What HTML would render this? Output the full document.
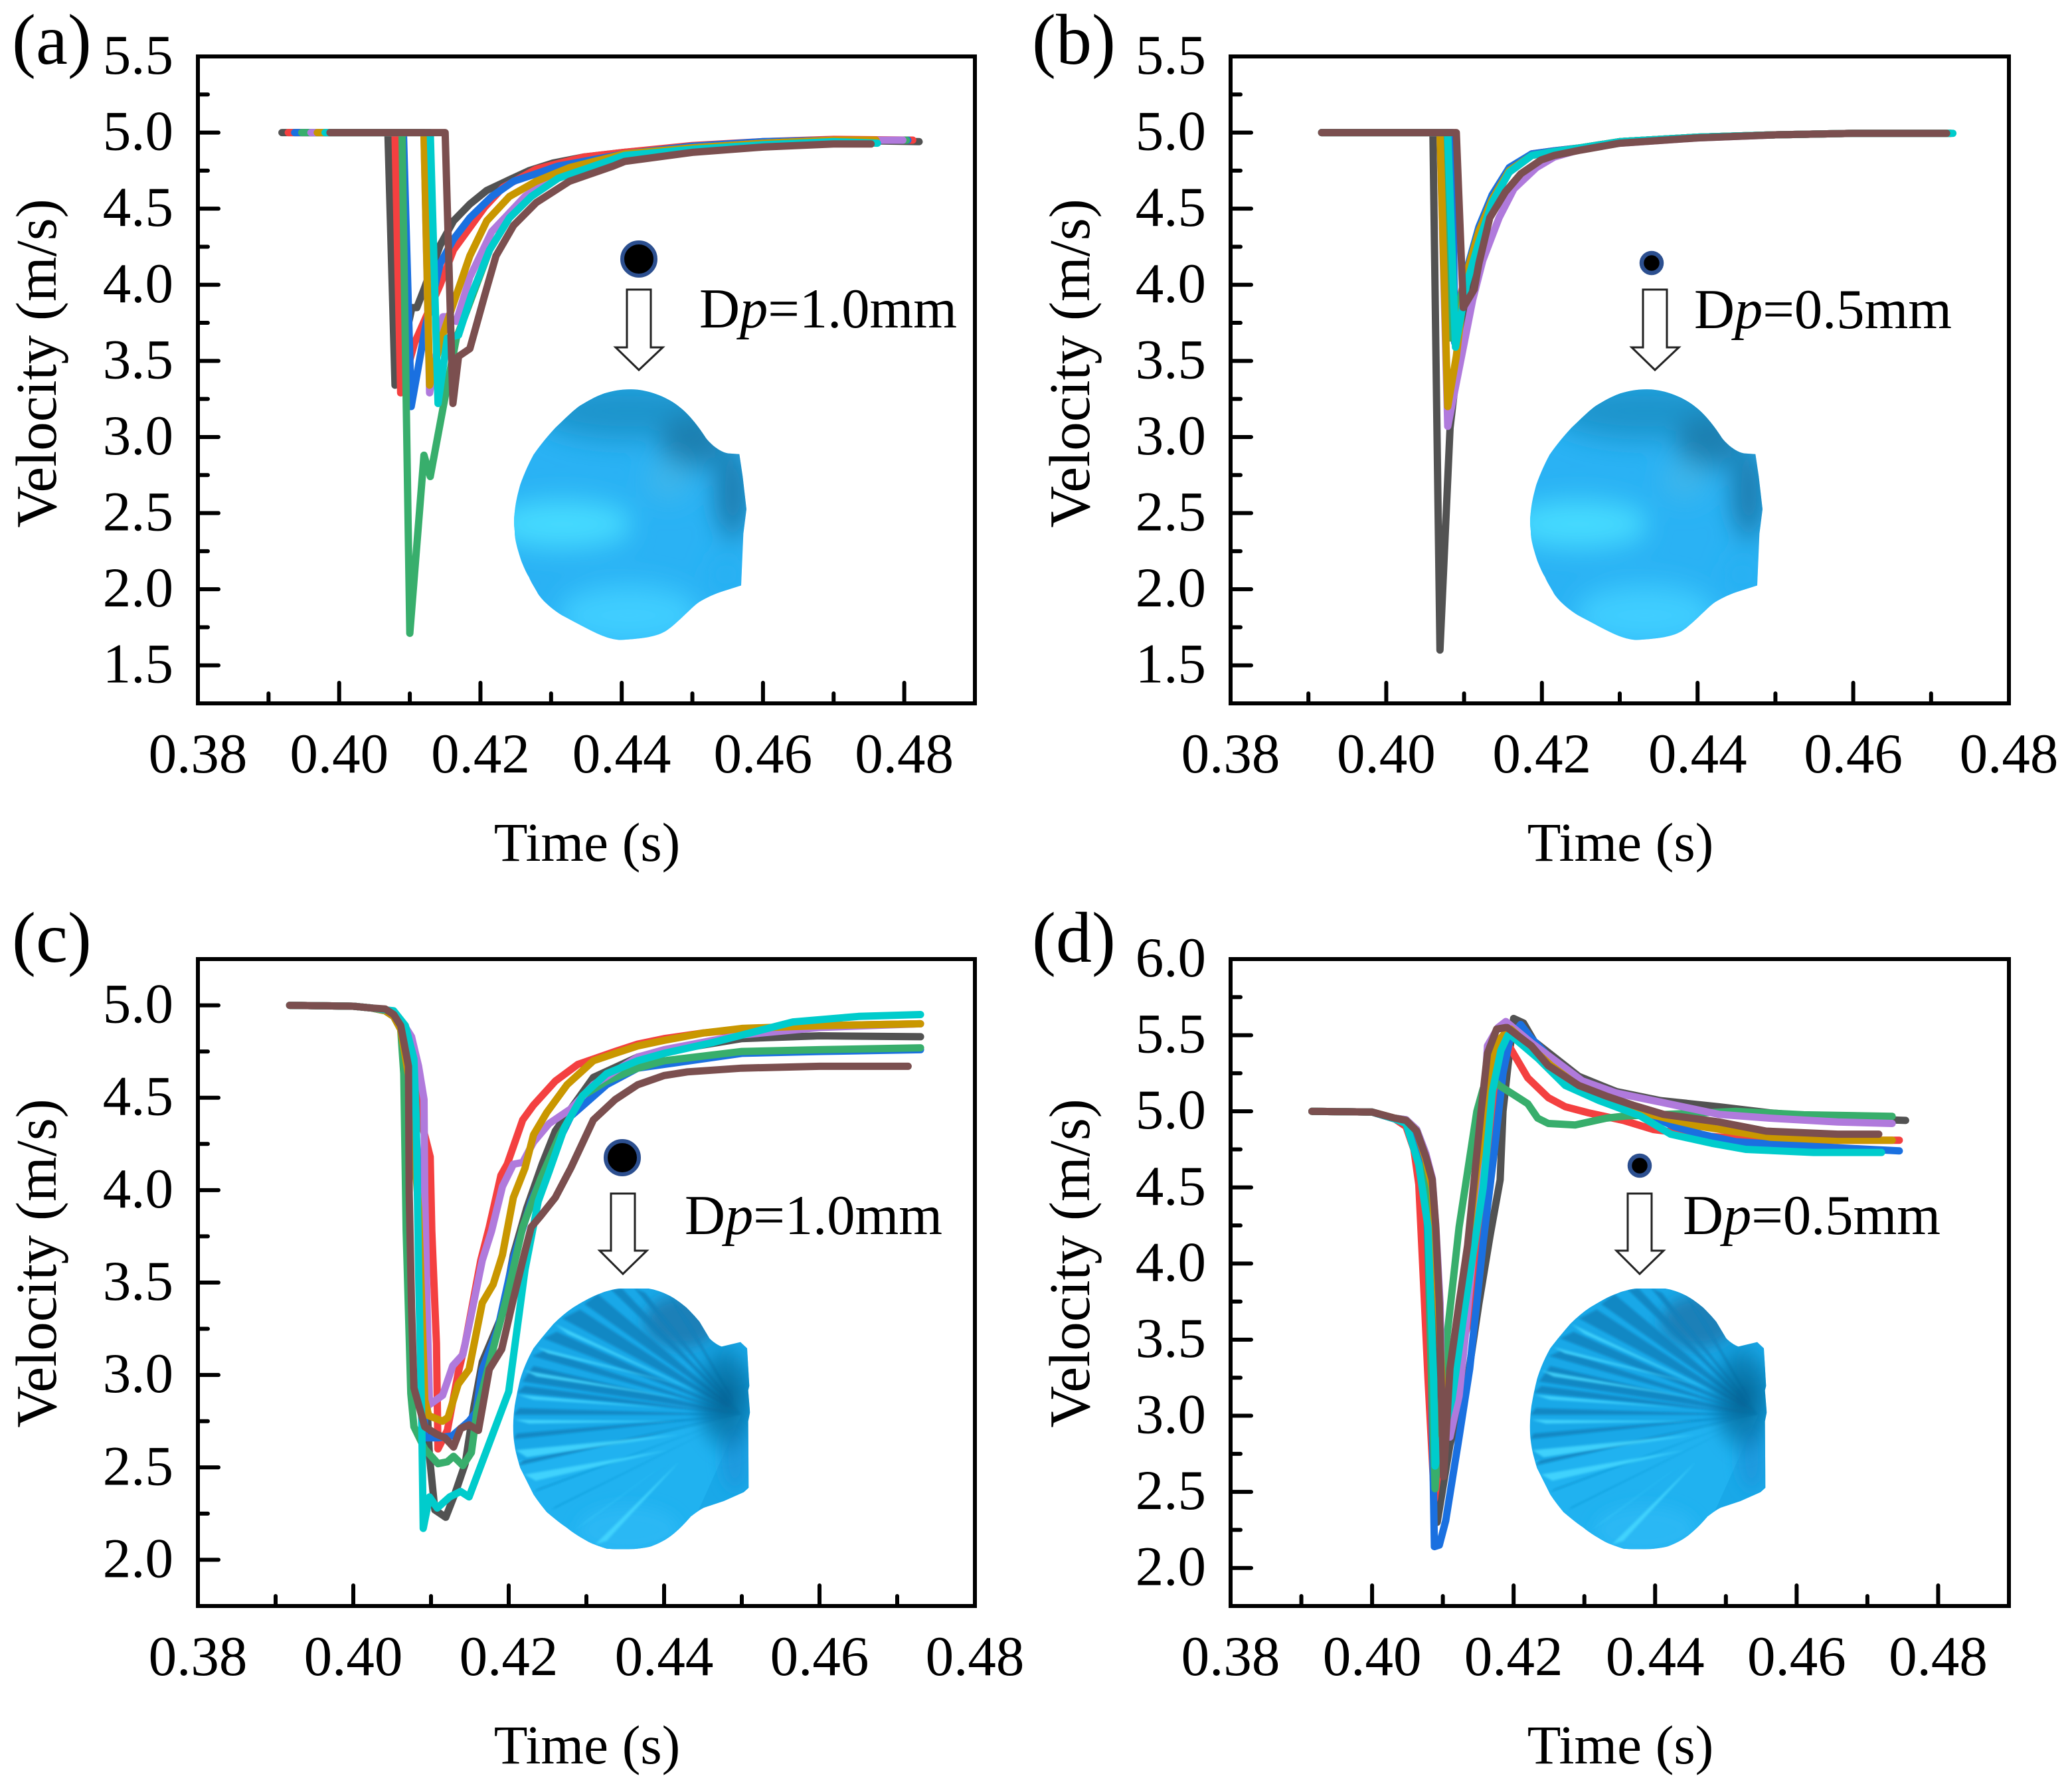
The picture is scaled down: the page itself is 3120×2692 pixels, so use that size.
<!DOCTYPE html>
<html lang="en">
<head>
<meta charset="utf-8">
<title>Velocity versus time for particles on scallop shells</title>
<style>
html,body{margin:0;padding:0;background:#fff}
svg{display:block;position:absolute;left:0;top:0}
text{font-family:"Liberation Serif",serif;fill:#000}
</style>
</head>
<body>
<svg id="figure" xmlns="http://www.w3.org/2000/svg" width="3120" height="2692" viewBox="0 0 3120 2692">
<defs>
  <filter id="blurSmooth" x="-40%" y="-40%" width="180%" height="180%"><feGaussianBlur stdDeviation="52"/></filter>
  <filter id="blurBig" x="-30%" y="-30%" width="160%" height="160%"><feGaussianBlur stdDeviation="32"/></filter>
  <filter id="blurRib" x="-10%" y="-10%" width="120%" height="120%"><feGaussianBlur stdDeviation="5"/></filter>
  <filter id="blurHinge" x="-30%" y="-30%" width="160%" height="160%"><feGaussianBlur stdDeviation="24"/></filter>
  <radialGradient id="hingeDark" cx="0.5" cy="0.5" r="0.5">
    <stop offset="0" stop-color="#07527f" stop-opacity="0.78"/>
    <stop offset="0.55" stop-color="#0a6496" stop-opacity="0.55"/>
    <stop offset="1" stop-color="#0d78b0" stop-opacity="0"/>
  </radialGradient>
  <clipPath id="smoothClip"><path d="M570 600C640 600 730 625 790 665C830 690 870 730 910 780C940 810 980 832 1010 835L1060 838L1075 920L1092 1040L1078 1130L1068 1320L990 1340C950 1350 910 1365 880 1380C850 1395 790 1450 740 1480C700 1505 640 1515 520 1520C450 1515 400 1490 260 1430C210 1405 170 1375 150 1350C130 1320 120 1310 110 1290C95 1270 85 1250 75 1230C55 1180 45 1150 45 1120C40 1090 42 1070 45 1050C50 1010 60 980 70 950C90 905 110 870 130 840C160 805 195 770 230 740C270 710 305 680 340 660C380 640 415 625 450 615C490 605 530 600 570 600Z"/></clipPath>
  <clipPath id="ribClip"><path d="M580 120L710 120C740 125 770 135 800 150C830 165 855 185 880 205C900 225 920 245 940 270C955 295 970 320 985 345C1000 360 1020 375 1040 382L1125 362L1155 390L1165 560L1160 580L1168 680L1160 720L1162 1020L1140 1040L1050 1080L960 1110C940 1120 920 1135 900 1150C875 1180 850 1205 820 1230C790 1255 755 1272 720 1285C690 1292 655 1297 620 1297C585 1298 550 1298 520 1295C490 1285 465 1277 440 1265C405 1245 370 1225 340 1200C310 1180 280 1155 250 1130C230 1105 210 1080 190 1050C170 1010 150 970 130 930C120 895 110 865 105 830C100 800 98 770 98 740C99 710 101 680 105 650C112 610 120 570 130 530C145 480 165 435 190 390C220 350 250 315 280 280C310 250 340 225 370 205C395 190 415 178 440 165C465 152 490 143 510 135C535 128 555 122 580 120Z"/></clipPath>
  <g id="smoothShell">
    <g clip-path="url(#smoothClip)">
      <rect x="0" y="560" width="1140" height="1000" fill="#2ab2f4"/>
      <g filter="url(#blurSmooth)">
        <ellipse cx="560" cy="680" rx="430" ry="105" fill="#1f94cc"/>
        <ellipse cx="850" cy="790" rx="150" ry="100" fill="#1c7fb0"/>
        <ellipse cx="1030" cy="980" rx="85" ry="170" fill="#1c80b4"/>
        <ellipse cx="740" cy="930" rx="110" ry="70" fill="#3cb6ec"/>
        <ellipse cx="260" cy="1095" rx="320" ry="85" fill="#46dcff"/>
        <ellipse cx="560" cy="1430" rx="320" ry="110" fill="#40ceff"/>
        <ellipse cx="1000" cy="1280" rx="80" ry="60" fill="#28b0f2"/>
      </g>
    </g>
  </g>
  <g id="ribbedShell">
    <g clip-path="url(#ribClip)">
      <rect x="60" y="90" width="1140" height="1240" fill="#19a8e8"/>
      <polygon points="1130,690 900,1200 500,1340 200,1100 100,900" fill="#20b2f0"/>
      <g filter="url(#blurBig)">
        <ellipse cx="860" cy="270" rx="170" ry="120" fill="#1b80b8"/>
        <ellipse cx="620" cy="1210" rx="230" ry="110" fill="#2ab8f4"/>
        <ellipse cx="1100" cy="880" rx="60" ry="150" fill="#1a9ade"/>
        <ellipse cx="1110" cy="460" rx="50" ry="80" fill="#1eaeee"/>
      </g>
      <g filter="url(#blurRib)" fill="#0f7fbc" fill-opacity="0.8">
        <polygon points="1130,690 540,125 590,120"/>
        <polygon points="1130,690 645,118 695,140"/>
        <polygon points="1130,690 800,150 890,270"/>
        <polygon points="1130,690 420,190 480,145"/>
        <polygon points="1130,690 320,255 400,215"/>
        <polygon points="1130,690 235,345 295,315"/>
        <polygon points="1130,690 185,425 240,400"/>
        <polygon points="1130,690 140,540 190,470"/>
        <polygon points="1130,690 115,590 150,560"/>
        <polygon points="1130,690 100,690 125,660"/>
        <polygon points="1130,690 100,800 115,775"/>
        <polygon points="1130,690 120,920 145,895"/>
        <polygon points="1130,690 190,1040 210,1025" fill="#1391cf"/>
        <polygon points="1130,690 270,1120 290,1105" fill="#1391cf"/>
        <polygon points="1130,690 370,1215 385,1205" fill="#1497d6"/>
      </g>
      <g filter="url(#blurRib)" fill="#45d8ff" fill-opacity="0.85">
        <polygon points="960,600 285,280 345,325"/>
        <polygon points="880,560 205,385 255,412"/>
        <polygon points="880,620 150,490 205,518"/>
        <polygon points="800,660 120,600 190,622"/>
        <polygon points="850,720 105,712 170,730"/>
        <polygon points="850,780 110,850 160,882"/>
        <polygon points="800,850 150,960 200,988"/>
        <polygon points="800,900 370,1215 450,1160"/>
        <polygon points="850,900 470,1275 520,1260"/>
      </g>
      <ellipse cx="1060" cy="610" rx="175" ry="290" fill="url(#hingeDark)" filter="url(#blurHinge)"/>
    </g>
  </g>
</defs>

<rect x="0" y="0" width="3120" height="2692" fill="#fff"/>

<g id="panelA"></g>
<g id="panelB"></g>
<g id="panelC"></g>
<g id="panelD"></g>

<text x="18" y="96" font-size="108">(a)</text>
<text x="1554" y="96" font-size="108">(b)</text>
<text x="18" y="1448" font-size="108">(c)</text>
<text x="1554" y="1448" font-size="108">(d)</text>

<text transform="translate(84,547) rotate(-90)" text-anchor="middle" font-size="87">Velocity (m/s)</text>
<text transform="translate(1640,547) rotate(-90)" text-anchor="middle" font-size="87">Velocity (m/s)</text>
<text transform="translate(84,1902) rotate(-90)" text-anchor="middle" font-size="87">Velocity (m/s)</text>
<text transform="translate(1640,1902) rotate(-90)" text-anchor="middle" font-size="87">Velocity (m/s)</text>

<text x="884" y="1296" text-anchor="middle" font-size="83">Time (s)</text>
<text x="2440" y="1296" text-anchor="middle" font-size="83">Time (s)</text>
<text x="884" y="2655" text-anchor="middle" font-size="83">Time (s)</text>
<text x="2440" y="2655" text-anchor="middle" font-size="83">Time (s)</text>

<text x="1053" y="493" font-size="84.5">D<tspan font-style="italic">p</tspan>=1.0mm</text>
<text x="2551" y="494" font-size="84.5">D<tspan font-style="italic">p</tspan>=0.5mm</text>
<text x="1031" y="1858" font-size="84.5">D<tspan font-style="italic">p</tspan>=1.0mm</text>
<text x="2534" y="1858" font-size="84.5">D<tspan font-style="italic">p</tspan>=0.5mm</text>

<use href="#smoothShell" transform="translate(760,340) scale(.33333,.41026)"/>
<use href="#smoothShell" transform="translate(2290,340) scale(.33333,.41026)"/>
<use href="#ribbedShell" transform="translate(740,1900) scale(.33333)"/>
<use href="#ribbedShell" transform="translate(2271,1900) scale(.33333)"/>

<circle cx="962" cy="390" r="25" fill="#000" stroke="#2c4f8f" stroke-width="6"/>
<circle cx="2487" cy="396" r="15" fill="#000" stroke="#2c4f8f" stroke-width="6.5"/>
<circle cx="937" cy="1743" r="25" fill="#000" stroke="#2c4f8f" stroke-width="6"/>
<circle cx="2469" cy="1755" r="15" fill="#000" stroke="#2c4f8f" stroke-width="6.5"/>

<polygon points="944,436 980,436 980,523 998,523 962,557 927,523 944,523" fill="#fff" stroke="#222" stroke-width="3"/>
<polygon points="2474,436 2510,436 2510,523 2528,523 2492,557 2457,523 2474,523" fill="#fff" stroke="#222" stroke-width="3"/>
<polygon points="920,1797 956,1797 956,1883 974,1883 938,1918 903,1883 920,1883" fill="#fff" stroke="#222" stroke-width="3"/>
<polygon points="2451,1797 2487,1797 2487,1883 2505,1883 2469,1918 2434,1883 2451,1883" fill="#fff" stroke="#222" stroke-width="3"/>
</svg>

<script>
/* ---------- tick values ---------- */
const xMajor = [0.38, 0.40, 0.42, 0.44, 0.46, 0.48];
const xMinorAD = [0.39, 0.41, 0.43, 0.45, 0.47];
const xMinorBC = [0.39, 0.41, 0.43, 0.45, 0.47];
const yMajorAB = [5.5, 5.0, 4.5, 4.0, 3.5, 3.0, 2.5, 2.0, 1.5];
const yMinorAB = [5.25, 4.75, 4.25, 3.75, 3.25, 2.75, 2.25, 1.75];
const yMajorC = [5.0, 4.5, 4.0, 3.5, 3.0, 2.5, 2.0];
const yMinorC = [4.75, 4.25, 3.75, 3.25, 2.75, 2.25];
const yMajorD = [6.0, 5.5, 5.0, 4.5, 4.0, 3.5, 3.0, 2.5, 2.0];
const yMinorD = [5.75, 5.25, 4.75, 4.25, 3.75, 3.25, 2.75, 2.25];

/* ---------- series names ---------- */
const seriesNames = ['gray', 'red', 'blue', 'green', 'purple', 'gold', 'cyan', 'brown'];
const seriesColors = ['#525252', '#f44040', '#1a70e0', '#38ae6c', '#b07adc', '#c99700', '#00cccc', '#7b4f4f'];

/* ---------- panel (a) ---------- */
const aGrayT = [.3919,.4069,.4079,.4103,.4110,.4120,.4143,.4162,.4185,.4209,.4241,.4269,.4303,.4347,.4404,.45,.46,.47,.4821];
const aGrayV = [5,5,3.34,3.85,3.85,3.97,4.26,4.42,4.53,4.62,4.69,4.75,4.80,4.84,4.87,4.91,4.935,4.95,4.94];
const aRedT = [.3928,.4079,.4087,.4107,.4143,.4162,.4206,.4232,.4279,.4347,.4404,.45,.46,.47,.4812];
const aRedV = [5,5,3.29,3.62,4.00,4.23,4.51,4.64,4.76,4.84,4.87,4.915,4.94,4.955,4.95];
const aBlueT = [.3937,.4091,.4102,.4122,.4143,.4162,.4185,.4216,.4247,.4279,.4310,.4404,.45,.46,.47,.4805];
const aBlueV = [5,5,3.20,3.72,4.14,4.30,4.44,4.58,4.68,4.73,4.78,4.86,4.91,4.94,4.95,4.95];
const aGreenT = [.3947,.4089,.4100,.4120,.4129,.4153,.4166,.4175,.4213,.4241,.4272,.4310,.4373,.4404,.45,.46,.47,.4803];
const aGreenV = [5,5,1.71,2.88,2.74,3.34,3.65,3.76,4.23,4.44,4.58,4.70,4.80,4.85,4.90,4.93,4.95,4.95];
const aPurpleT = [.396,.4120,.4128,.4147,.4153,.4166,.4185,.4216,.4263,.4294,.4347,.4404,.45,.46,.47,.4798];
const aPurpleV = [5,5,3.29,3.79,3.79,3.76,4.05,4.35,4.58,4.68,4.79,4.85,4.90,4.93,4.95,4.95];
const aGoldT = [.3969,.4120,.4128,.4145,.4162,.4185,.4209,.4241,.4279,.4326,.4404,.45,.46,.47,.476];
const aGoldV = [5,5,3.34,3.65,3.88,4.19,4.42,4.58,4.68,4.77,4.86,4.90,4.93,4.95,4.95];
const aCyanT = [.398,.4129,.4140,.4153,.4169,.4187,.4213,.4241,.4272,.4310,.4373,.4404,.45,.46,.47,.4762];
const aCyanV = [5,5,3.22,3.65,3.67,3.93,4.23,4.44,4.58,4.70,4.80,4.85,4.89,4.92,4.94,4.93];
const aBrownT = [.3987,.4150,.4161,.4169,.4185,.4206,.4222,.4247,.4279,.4326,.4388,.4404,.45,.46,.47,.4753];
const aBrownV = [5,5,3.22,3.53,3.58,3.93,4.19,4.39,4.54,4.68,4.78,4.81,4.87,4.905,4.925,4.925];

/* ---------- panel (b) ---------- */
const bGrayT = [.3917,.4060,.4069,.4082,.4096,.4105,.4119,.4136,.4158,.4187,.4216,.425,.43,.44,.45,.46,.4725];
const bGrayV = [5,5,1.60,3.06,3.67,3.90,4.30,4.55,4.74,4.85,4.875,4.90,4.94,4.97,4.985,4.995,4.995];
const bRedT = [.3917,.4077,.4083,.4102,.4119,.4136,.4158,.4187,.4216,.425,.43,.44,.45,.46,.4725];
const bRedV = [5,5,3.65,4.07,4.37,4.58,4.76,4.86,4.88,4.90,4.94,4.97,4.985,4.995,4.995];
const bBlueT = [.3917,.4085,.4088,.4102,.4119,.4136,.4158,.4187,.4216,.425,.43,.44,.45,.46,.4725];
const bBlueV = [5,5,3.62,4.07,4.38,4.59,4.77,4.86,4.88,4.90,4.94,4.97,4.985,4.995,4.995];
const bGreenT = [.3917,.4077,.4083,.4102,.4119,.4136,.4158,.4187,.4216,.425,.43,.44,.45,.46,.4725];
const bGreenV = [5,5,3.65,4.05,4.35,4.56,4.75,4.85,4.875,4.90,4.94,4.97,4.985,4.995,4.995];
const bPurpleT = [.3917,.4069,.4079,.4111,.4124,.4145,.4164,.4193,.4216,.425,.43,.44,.45,.46,.4725];
const bPurpleV = [5,5,3.07,3.90,4.16,4.44,4.63,4.77,4.84,4.89,4.93,4.965,4.985,4.995,4.995];
const bGoldT = [.3917,.4069,.4079,.4090,.4102,.4119,.4136,.4158,.4187,.4216,.425,.43,.44,.45,.46,.4725];
const bGoldV = [5,5,3.20,3.53,4.05,4.35,4.56,4.75,4.85,4.875,4.90,4.94,4.97,4.985,4.995,4.995];
const bCyanT = [.3917,.4079,.4089,.4103,.4119,.4136,.4158,.4187,.4216,.425,.43,.44,.45,.46,.4728];
const bCyanV = [5,5,3.59,4.00,4.28,4.54,4.74,4.85,4.875,4.90,4.94,4.97,4.985,4.995,4.995];
const bBrownT = [.3917,.4090,.4099,.4113,.4119,.4133,.4153,.4173,.4199,.4216,.425,.43,.44,.45,.46,.472];
const bBrownV = [5,5,3.85,3.97,4.14,4.44,4.61,4.73,4.82,4.85,4.885,4.93,4.965,4.985,4.995,4.995];

/* ---------- panel (c) ---------- */
const cGrayT = [.3918,.40,.4024,.4041,.4052,.4061,.4070,.4085,.4091,.4098,.4105,.4119,.4131,.4144,.4155,.4166,.4178,.4192,.4206,.4223,.4243,.426,.428,.4309,.4366,.44,.45,.46,.473];
const cGrayV = [5,4.995,4.985,4.97,4.94,4.87,4.59,3.98,3.17,2.56,2.27,2.23,2.36,2.52,2.82,3.07,3.19,3.33,3.65,3.90,4.14,4.32,4.44,4.61,4.72,4.75,4.82,4.835,4.83];
const cRedT = [.3918,.40,.4024,.4041,.4052,.4065,.4075,.4087,.4099,.4101,.4107,.4109,.4121,.4135,.4144,.4164,.4175,.419,.4198,.4218,.4232,.426,.4289,.4337,.4366,.44,.445,.45,.46,.473];
const cRedV = [5,4.995,4.985,4.97,4.94,4.87,4.72,4.38,4.18,3.78,3.17,2.60,2.70,3.01,3.17,3.62,3.80,4.08,4.14,4.38,4.46,4.59,4.68,4.75,4.79,4.82,4.85,4.87,4.89,4.90];
const cBlueT = [.3918,.40,.4024,.4041,.4052,.4065,.4078,.4085,.4091,.4092,.4109,.4127,.4149,.4158,.4166,.4186,.4206,.4229,.4252,.428,.4326,.4366,.44,.45,.46,.473];
const cBlueV = [5,4.995,4.985,4.97,4.94,4.87,4.55,3.98,2.97,2.66,2.66,2.67,2.75,2.80,3.03,3.25,3.63,3.94,4.16,4.40,4.57,4.66,4.68,4.74,4.75,4.76];
const cGreenT = [.3918,.40,.4024,.4041,.4052,.4061,.4065,.4068,.4074,.4078,.4092,.4109,.4121,.4129,.4141,.4152,.4159,.4178,.4198,.4218,.4241,.4266,.4295,.4326,.4366,.44,.45,.46,.473];
const cGreenV = [5,4.995,4.985,4.97,4.94,4.87,4.63,3.78,2.90,2.72,2.60,2.52,2.53,2.56,2.51,2.58,2.80,3.11,3.43,3.80,4.06,4.30,4.51,4.59,4.66,4.70,4.75,4.76,4.77];
const cPurpleT = [.3918,.40,.4024,.4041,.4052,.4066,.4075,.4084,.4091,.4092,.4095,.4098,.4115,.4128,.4141,.4149,.4166,.4178,.4192,.4206,.4218,.4232,.4252,.428,.4309,.4366,.44,.45,.46,.473];
const cPurpleV = [5,4.995,4.985,4.97,4.95,4.89,4.83,4.67,4.49,3.98,3.37,2.84,2.89,3.05,3.11,3.27,3.62,3.78,4.02,4.14,4.15,4.26,4.36,4.44,4.57,4.72,4.76,4.84,4.88,4.90];
const cGoldT = [.3918,.40,.4024,.4041,.4052,.4061,.4072,.4084,.4091,.4092,.4097,.4115,.4122,.4135,.4149,.4166,.418,.4192,.4206,.4221,.4232,.4249,.4275,.4309,.4337,.4366,.44,.445,.45,.46,.473];
const cGoldV = [5,4.995,4.985,4.97,4.94,4.87,4.60,3.90,3.00,2.865,2.78,2.75,2.77,2.95,3.03,3.39,3.49,3.65,3.96,4.12,4.30,4.42,4.57,4.70,4.74,4.78,4.81,4.85,4.875,4.89,4.90];
const cCyanT = [.3918,.40,.4024,.4041,.4052,.4067,.4078,.4081,.4084,.4088,.409,.4098,.4108,.4124,.4138,.4149,.42,.4221,.4238,.4252,.4272,.4295,.4326,.4366,.44,.4464,.4566,.465,.473];
const cCyanV = [5,4.995,4.985,4.975,4.97,4.89,4.71,4.38,3.57,2.76,2.17,2.34,2.28,2.34,2.37,2.34,2.91,3.57,3.94,4.10,4.34,4.51,4.63,4.70,4.74,4.80,4.91,4.94,4.95];
const cBrownT = [.3918,.40,.4024,.4041,.4052,.4061,.4071,.4072,.4075,.4078,.4092,.4107,.4118,.4129,.4138,.4149,.4161,.4175,.4191,.4206,.4221,.4229,.4241,.426,.428,.4309,.4337,.4366,.44,.443,.45,.46,.4714];
const cBrownV = [5,4.995,4.985,4.98,4.95,4.89,4.67,3.98,3.37,2.93,2.72,2.68,2.66,2.61,2.71,2.73,2.70,3.03,3.14,3.41,3.67,3.80,3.86,3.96,4.12,4.38,4.49,4.57,4.62,4.64,4.66,4.67,4.67];

/* ---------- panel (d) ---------- */
const dGrayT = [.3915,.40,.4032,.4048,.4063,.4076,.4085,.4092,.4110,.4135,.4151,.4167,.4181,.4185,.4192,.42,.4214,.4229,.4292,.4345,.4408,.449,.4562,.4658,.4754];
const dGrayV = [5,4.995,4.95,4.93,4.86,4.68,3.90,2.30,2.81,3.24,3.74,4.19,4.55,5.0,5.30,5.61,5.58,5.46,5.23,5.13,5.07,5.03,4.99,4.955,4.94];
const dRedT = [.3915,.40,.4032,.4048,.4059,.4066,.4073,.4079,.4088,.4104,.4142,.4167,.4182,.4193,.4196,.422,.4249,.4273,.4306,.4355,.4398,.4465,.4552,.4658,.4745];
const dRedV = [5,4.995,4.95,4.90,4.75,4.52,3.84,3.24,2.45,2.99,3.74,4.62,5.25,5.43,5.41,5.22,5.09,5.03,4.99,4.94,4.88,4.84,4.81,4.81,4.81];
const dBlueT = [.3915,.40,.4032,.4048,.4063,.4076,.4084,.4088,.4095,.4104,.4123,.4138,.4157,.4173,.4185,.4195,.4210,.4225,.4258,.4292,.4345,.4427,.4465,.4514,.4619,.4745];
const dBlueV = [5,4.995,4.95,4.92,4.85,4.60,3.24,2.14,2.15,2.31,2.86,3.31,4.14,4.75,5.25,5.48,5.57,5.48,5.32,5.17,5.08,4.90,4.85,4.80,4.77,4.74];
const dGreenT = [.3915,.40,.4032,.4048,.4063,.4076,.4084,.4089,.4102,.4123,.4148,.4157,.4172,.4181,.4220,.4234,.4249,.4287,.4331,.4359,.4417,.4514,.461,.4735];
const dGreenV = [5,4.995,4.955,4.945,4.88,4.72,3.24,2.52,3.36,4.24,5.0,5.15,5.2,5.166,5.05,4.955,4.92,4.91,4.955,4.97,4.98,5.0,4.977,4.967];
const dPurpleT = [.3915,.40,.4032,.4048,.4063,.4076,.4085,.4090,.4096,.4099,.411,.4123,.4132,.4151,.4163,.4178,.4189,.4225,.4297,.4345,.4408,.449,.4562,.4658,.4735];
const dPurpleV = [5,4.995,4.955,4.945,4.88,4.72,4.56,4.25,3.74,2.99,2.86,3.13,3.54,4.50,5.43,5.55,5.59,5.45,5.20,5.12,5.06,4.98,4.955,4.93,4.92];
const dGoldT = [.3915,.40,.4032,.4048,.4063,.4076,.4085,.4090,.4096,.4102,.4112,.4126,.4148,.4168,.4176,.4189,.4196,.4253,.4311,.4393,.4465,.4562,.4658,.4735];
const dGoldV = [5,4.995,4.955,4.94,4.87,4.68,4.50,4.10,3.49,2.90,3.11,3.74,4.62,5.25,5.45,5.52,5.54,5.30,5.10,4.98,4.90,4.83,4.81,4.81];
const dCyanT = [.3915,.40,.4032,.4048,.4066,.4079,.4087,.4089,.4113,.4132,.4157,.4170,.4182,.4192,.4196,.4234,.4273,.4321,.4379,.4422,.448,.4528,.4624,.472];
const dCyanV = [5,4.995,4.95,4.92,4.65,4.24,3.24,2.67,3.11,3.74,4.50,5.13,5.40,5.50,5.50,5.35,5.17,5.07,4.97,4.85,4.79,4.75,4.73,4.73];
const dBrownT = [.3915,.40,.4032,.4048,.4063,.4076,.4085,.4090,.4095,.4101,.4110,.4123,.4135,.4154,.4163,.4176,.4189,.4191,.4225,.4249,.4292,.4331,.4369,.4412,.449,.4557,.4658,.4716];
const dBrownV = [5,4.995,4.955,4.94,4.87,4.70,4.55,4.24,3.74,2.60,3.31,3.74,4.12,5.0,5.38,5.54,5.55,5.55,5.43,5.30,5.17,5.10,5.04,4.98,4.93,4.87,4.85,4.85];

/* ---------- panel setup ---------- */
const panels = [
  {id:'panelA', key:'panel-a', x0:298, x1:1468, tMin:.38, tMax:.49, yBottom:1059, yTop:85, vMin:1.25, vMax:5.5, xMin:xMinorAD, yMaj:yMajorAB, yMin:yMinorAB,
   series:[[aGrayT,aGrayV],[aRedT,aRedV],[aBlueT,aBlueV],[aGreenT,aGreenV],[aPurpleT,aPurpleV],[aGoldT,aGoldV],[aCyanT,aCyanV],[aBrownT,aBrownV]]},
  {id:'panelB', key:'panel-b', x0:1853, x1:3025, tMin:.38, tMax:.48, yBottom:1059, yTop:85, vMin:1.25, vMax:5.5, xMin:xMinorBC, yMaj:yMajorAB, yMin:yMinorAB,
   series:[[bGrayT,bGrayV],[bRedT,bRedV],[bBlueT,bBlueV],[bGreenT,bGreenV],[bPurpleT,bPurpleV],[bGoldT,bGoldV],[bCyanT,bCyanV],[bBrownT,bBrownV]]},
  {id:'panelC', key:'panel-c', x0:298, x1:1468, tMin:.38, tMax:.48, yBottom:2418, yTop:1444, vMin:1.75, vMax:5.25, xMin:xMinorBC, yMaj:yMajorC, yMin:yMinorC,
   series:[[cGrayT,cGrayV],[cRedT,cRedV],[cBlueT,cBlueV],[cGreenT,cGreenV],[cPurpleT,cPurpleV],[cGoldT,cGoldV],[cCyanT,cCyanV],[cBrownT,cBrownV]]},
  {id:'panelD', key:'panel-d', x0:1853, x1:3025, tMin:.38, tMax:.49, yBottom:2418, yTop:1444, vMin:1.75, vMax:6.0, xMin:xMinorAD, yMaj:yMajorD, yMin:yMinorD,
   series:[[dGrayT,dGrayV],[dRedT,dRedV],[dBlueT,dBlueV],[dGreenT,dGreenV],[dPurpleT,dPurpleV],[dGoldT,dGoldV],[dCyanT,dCyanV],[dBrownT,dBrownV]]}
];

const NS = 'http://www.w3.org/2000/svg';
function xScale(p, t) { return p.x0 + (t - p.tMin) / (p.tMax - p.tMin) * (p.x1 - p.x0); }
function yScale(p, v) { return p.yBottom - (v - p.vMin) / (p.vMax - p.vMin) * (p.yBottom - p.yTop); }

function drawTick(group, x1, y1, x2, y2, name) {
  const el = document.createElementNS(NS, 'line');
  el.setAttribute('x1', x1);
  el.setAttribute('y1', y1);
  el.setAttribute('x2', x2);
  el.setAttribute('y2', y2);
  el.setAttribute('stroke', '#000');
  el.setAttribute('stroke-width', 6);
  el.setAttribute('stroke-linecap', 'round');
  
  
  group.appendChild(el);
}
function drawLabel(group, x, y, str, anchor, name) {
  const el = document.createElementNS(NS, 'text');
  el.setAttribute('x', x);
  el.setAttribute('y', y);
  el.setAttribute('text-anchor', anchor);
  el.setAttribute('font-size', 85);
  el.textContent = str;
  
  
  group.appendChild(el);
}

panels.forEach(function (p) {
  const g = document.getElementById(p.id);

  p.series.forEach(function (s, i) {
    const pts = s[0].map(function (t, j) { return xScale(p, t).toFixed(1) + ',' + yScale(p, s[1][j]).toFixed(1); }).join(' ');
    const line = document.createElementNS(NS, 'polyline');
    line.setAttribute('points', pts);
    line.setAttribute('fill', 'none');
    line.setAttribute('stroke', seriesColors[i]);
    line.setAttribute('stroke-width', 11);
    line.setAttribute('stroke-linejoin', 'round');
    line.setAttribute('stroke-linecap', 'round');
    
    
    g.appendChild(line);
  });

  const frame = document.createElementNS(NS, 'rect');
  frame.setAttribute('x', p.x0);
  frame.setAttribute('y', p.yTop);
  frame.setAttribute('width', p.x1 - p.x0);
  frame.setAttribute('height', p.yBottom - p.yTop);
  frame.setAttribute('fill', 'none');
  frame.setAttribute('stroke', '#000');
  frame.setAttribute('stroke-width', 6);
  
  
  g.appendChild(frame);

  xMajor.forEach(function (t) {
    const x = xScale(p, t);
    drawTick(g, x, p.yBottom, x, p.yBottom - 31, p.key + '-x-major-tick');
    drawLabel(g, x, p.yBottom + 104, t.toFixed(2), 'middle', p.key + '-x-tick-label');
  });
  p.xMin.forEach(function (t) {
    const x = xScale(p, t);
    drawTick(g, x, p.yBottom, x, p.yBottom - 15, p.key + '-x-minor-tick');
  });
  p.yMaj.forEach(function (v) {
    const y = yScale(p, v);
    drawTick(g, p.x0, y, p.x0 + 31, y, p.key + '-y-major-tick');
    drawLabel(g, p.x0 - 37, y + 26, v.toFixed(1), 'end', p.key + '-y-tick-label');
  });
  p.yMin.forEach(function (v) {
    const y = yScale(p, v);
    drawTick(g, p.x0, y, p.x0 + 15, y, p.key + '-y-minor-tick');
  });
});
</script>
</body>
</html>
